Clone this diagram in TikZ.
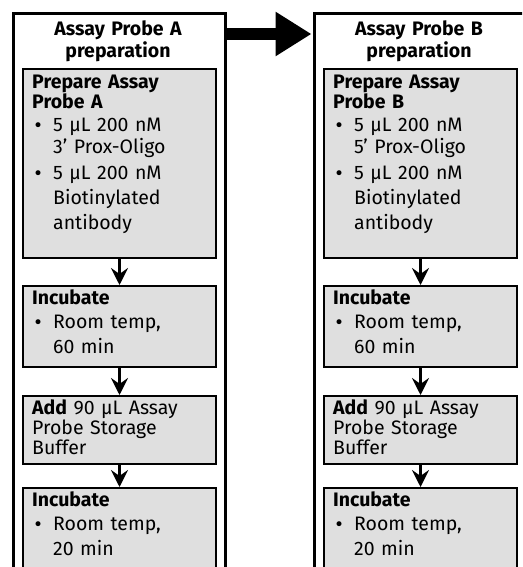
\documentclass[tikz,border=0pt]{standalone}
\usepackage{fontspec}
\setmainfont{Fira Sans}
\newfontfamily\bulfont{DejaVu Sans}
\usetikzlibrary{arrows.meta,calc}
\definecolor{boxgray}{RGB}{223,223,223}
\newcommand\bul{\makebox[21pt][l]{\hspace{1pt}{\bulfont\fontsize{17}{20}\selectfont •}}}
\newcommand\ind{\hspace*{21pt}}
\begin{document}
\begin{tikzpicture}[x=1pt,y=-1pt,
 outerbox/.style={draw, line width=3pt, minimum width=212pt, minimum height=620pt, anchor=north west, inner sep=0pt},
 stepbox/.style={draw, line width=2pt, fill=boxgray, minimum width=193pt, anchor=north west, inner sep=0pt},
 txt/.style={anchor=base west, align=left, text width=190pt, inner sep=0pt, font=\fontsize{19.5}{20}\selectfont},
 ttl/.style={anchor=base, align=center, text width=210pt, inner sep=0pt, font=\bfseries\fontsize{19.5}{19}\selectfont},
 flow/.style={line width=3pt, -{Stealth[length=17pt,width=17pt,inset=6pt]}},
 big/.style={line width=12pt, -{Triangle[length=36pt,width=42pt]}}]
\useasboundingbox (0,0) rectangle (522,567);
\clip (0,0) rectangle (522,567);
\foreach \c/\dx/\P in {A/0/3, B/301/5}{
  \node[outerbox] (out\c) at ({12+\dx},12) {};
  \node[stepbox, minimum height=189pt] (b1\c) at ({22+\dx},68) {};
  \node[stepbox, minimum height=81pt] (b2\c) at ({22+\dx},285) {};
  \node[stepbox, minimum height=68pt] (b3\c) at ({22+\dx},395) {};
  \node[stepbox, minimum height=120pt] (b4\c) at ({22+\dx},487) {};
  \node[ttl] (t\c) at ({118+\dx},36) {Assay Probe \c\\preparation};
  \node[txt] (x1\c) at ({32+\dx},89) {\textbf{Prepare Assay}\\\textbf{Probe \c}\\[3pt]\bul 5 µL 200 nM\\[1.5pt]\ind \P’ Prox-Oligo\\[5.5pt]\bul 5 µL 200 nM\\[5.5pt]\ind Biotinylated\\[5pt]\ind antibody};
  \node[txt] (x2\c) at ({32+\dx},304) {\textbf{Incubate}\\[4.5pt]\bul Room temp,\\[4.5pt]\ind 60 min};
  \node[txt] (x3\c) at ({32+\dx},414) {\textbf{Add} 90 µL Assay\\Probe Storage\\Buffer};
  \node[txt] (x4\c) at ({32+\dx},506) {\textbf{Incubate}\\[4.5pt]\bul Room temp,\\[4.5pt]\ind 20 min};
  \draw[flow] (b1\c.south) -- (b2\c.north);
  \draw[flow] (b2\c.south) -- (b3\c.north);
  \draw[flow] (b3\c.south) -- (b4\c.north);
}
\coordinate (ga) at ($(outA.north east)+(0,22)$);
\coordinate (gb) at ($(outB.north west)+(-1.5,22)$);
\draw[big] (ga) -- (gb);
\end{tikzpicture}
\end{document}
